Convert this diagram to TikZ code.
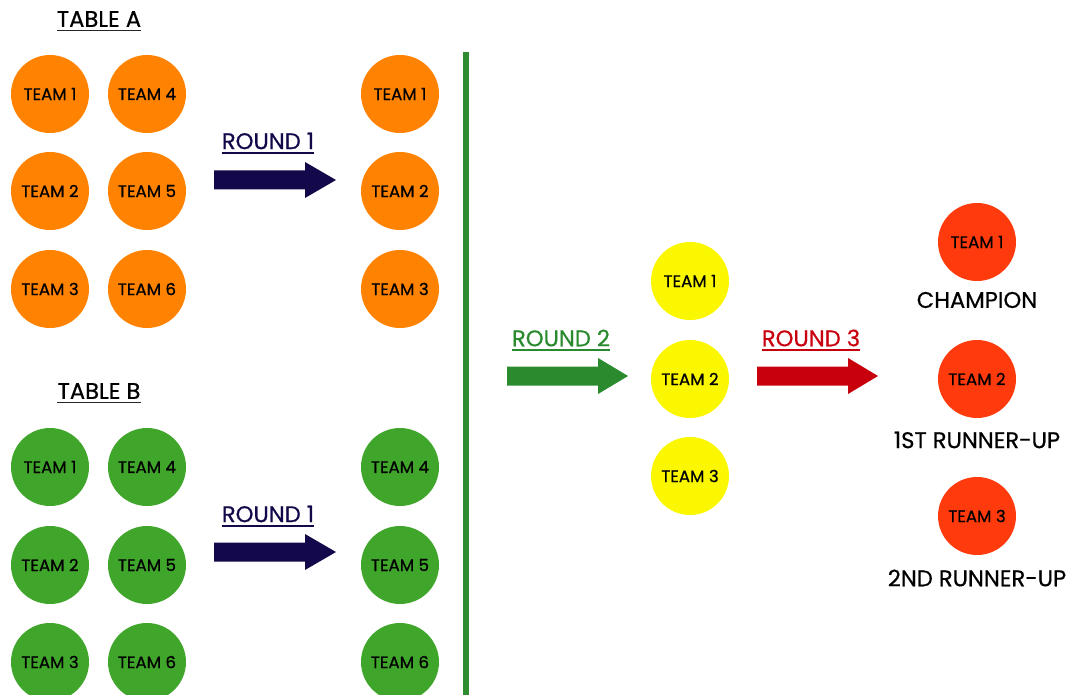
\documentclass[tikz,border=0pt]{standalone}
\usepackage{fontspec}
\setmainfont{Poppins}[FakeBold=0.6]
\definecolor{orangeC}{HTML}{FF8200}
\definecolor{greenC}{HTML}{40A52B}
\definecolor{yellowC}{HTML}{FAF700}
\definecolor{redC}{HTML}{FF3A0C}
\definecolor{navyA}{HTML}{13094A}
\definecolor{greenA}{HTML}{2A8A2E}
\definecolor{redA}{HTML}{C8000E}
\definecolor{lineG}{HTML}{2E8B30}
\usetikzlibrary{calc}
\tikzset{
  team/.style={circle, minimum size=58.5pt, inner sep=0pt, text=black, font=\fontsize{12.5}{14}\selectfont},
  orangeteam/.style={team, fill=orangeC},
  greenteam/.style={team, fill=greenC},
  yellowteam/.style={team, fill=yellowC},
  redteam/.style={team, fill=redC},
  title/.style={font=\fontsize{17}{20}\selectfont, inner sep=0pt},
  roundlbl/.style={font=\fontsize{17}{20}\selectfont, inner sep=0pt},
  place/.style={font=\fontsize{17}{20}\selectfont, inner sep=0pt},
  uline/.style={line width=1.4pt},
}
\newcommand{\fatarrow}[3]{%
  \fill[#3] ($(#1)+(0,-9.5)$) -- ($(#1)+(91,-9.5)$) -- ($(#1)+(91,-18)$) -- ($(#1)+(#2,0)$) -- ($(#1)+(91,18)$) -- ($(#1)+(91,9.5)$) -- ($(#1)+(0,9.5)$) -- cycle;}
\newcommand{\ulnode}[2]{%
  \draw[uline,#2] ([yshift=-2.5pt]#1.south west) -- ([yshift=-2.5pt]#1.south east);}
\begin{document}
\begin{tikzpicture}[x=0.75pt,y=-0.75pt]
\useasboundingbox (0,0) rectangle (1067,695);
\clip (0,0) rectangle (1067,695);
% Table A
\node[title] (ta) at (99,19) {TABLE A};
\ulnode{ta}{black!85}
\node[orangeteam] (a1) at (50,94) {TEAM 1};
\node[orangeteam] (a4) at (147,94) {TEAM 4};
\node[orangeteam] (a2) at (50,191) {TEAM 2};
\node[orangeteam] (a5) at (147,191) {TEAM 5};
\node[orangeteam] (a3) at (50,289) {TEAM 3};
\node[orangeteam] (a6) at (147,289) {TEAM 6};
\node[orangeteam] (ra1) at (400,94) {TEAM 1};
\node[orangeteam] (ra2) at (400,191) {TEAM 2};
\node[orangeteam] (ra3) at (400,289) {TEAM 3};
\node[roundlbl, text=navyA] (r1a) at (268,141) {ROUND 1};
\ulnode{r1a}{navyA}
\coordinate (arA) at (214,180);
\fatarrow{arA}{122}{navyA}
% Table B
\node[title] (tb) at (99,391) {TABLE B};
\ulnode{tb}{black!85}
\node[greenteam] (b1) at (50,467) {TEAM 1};
\node[greenteam] (b4) at (147,467) {TEAM 4};
\node[greenteam] (b2) at (50,565) {TEAM 2};
\node[greenteam] (b5) at (147,565) {TEAM 5};
\node[greenteam] (b3) at (50,662) {TEAM 3};
\node[greenteam] (b6) at (147,662) {TEAM 6};
\node[greenteam] (rb4) at (400,467) {TEAM 4};
\node[greenteam] (rb5) at (400,565) {TEAM 5};
\node[greenteam] (rb6) at (400,662) {TEAM 6};
\node[roundlbl, text=navyA] (r1b) at (268,514) {ROUND 1};
\ulnode{r1b}{navyA}
\coordinate (arB) at (214,552);
\fatarrow{arB}{122}{navyA}
% divider
\coordinate (lt) at (466,52);
\coordinate (lb) at (466,700);
\draw[lineG, line width=5pt] (lt) -- (lb);
% Round 2
\node[roundlbl, text=greenA] (r2) at (561,338) {ROUND 2};
\ulnode{r2}{greenA}
\coordinate (ar2) at (507,376);
\fatarrow{ar2}{121}{greenA}
\node[yellowteam] (y1) at (690,281) {TEAM 1};
\node[yellowteam] (y2) at (690,379) {TEAM 2};
\node[yellowteam] (y3) at (690,476) {TEAM 3};
% Round 3
\node[roundlbl, text=redA] (r3) at (811,338) {ROUND 3};
\ulnode{r3}{redA}
\coordinate (ar3) at (757,376);
\fatarrow{ar3}{121}{redA}
\node[redteam] (f1) at (977,242) {TEAM 1};
\node[redteam] (f2) at (977,379) {TEAM 2};
\node[redteam] (f3) at (977,516) {TEAM 3};
\node[place] (p1) at (977,300) {CHAMPION};
\node[place] (p2) at (977,440) {1ST RUNNER-UP};
\node[place] (p3) at (977,578) {2ND RUNNER-UP};
\end{tikzpicture}
\end{document}
